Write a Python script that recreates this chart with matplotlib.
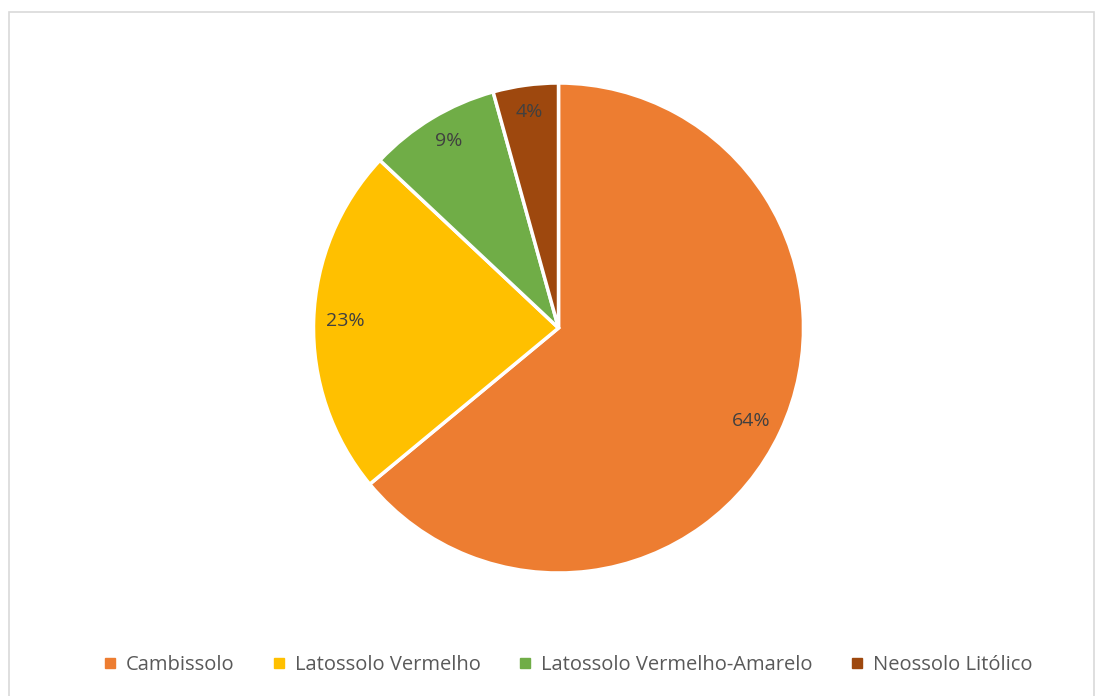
import numpy as np
import matplotlib.pyplot as plt
from matplotlib.patches import Rectangle
from matplotlib.lines import Line2D

categorias = ['Cambissolo', 'Latossolo Vermelho', 'Latossolo Vermelho-Amarelo', 'Neossolo Litólico']
valores = [64.0, 23.0, 8.7, 4.3]
rotulos = ['64%', '23%', '9%', '4%']
cores = ['#ED7D31', '#FFC000', '#70AD47', '#9E480E']

plt.rcParams['font.family'] = ['Open Sans', 'DejaVu Sans']

W, H = 1095, 696
fig = plt.figure(figsize=(W / 100, H / 100), dpi=100)

# moldura cinza clara
fig.patches.append(Rectangle((9 / W, -0.01), (1094 - 9) / W, 1 - 12 / H + 0.01,
                             transform=fig.transFigure, fill=False,
                             edgecolor='#d9d9d9', linewidth=1.2))

cx, cy, r = 558.5, 328, 245
ax = fig.add_axes([(cx - r) / W, (H - cy - r) / H, 2 * r / W, 2 * r / H])
wedges, _ = ax.pie(valores, colors=cores, startangle=90, counterclock=False,
                   radius=1, wedgeprops=dict(edgecolor='white', linewidth=2.5))
for w, txt in zip(wedges, rotulos):
    ang = np.deg2rad((w.theta1 + w.theta2) / 2)
    ax.text(0.87 * np.cos(ang), 0.89 * np.sin(ang), txt, ha='center', va='center',
            fontsize=14, color='#404040')
ax.set_xlim(-1, 1)
ax.set_ylim(-1, 1)
ax.set_aspect('equal')
ax.axis('off')

handles = [Line2D([], [], marker='s', linestyle='none', markersize=7,
                  markerfacecolor=c, markeredgecolor=c) for c in cores]
fig.legend(handles, categorias, loc='center', bbox_to_anchor=(566 / W, 1 - 665 / H),
           ncol=4, frameon=False, fontsize=14.5, labelcolor='#595959',
           handletextpad=0.3, columnspacing=1.7, handlelength=1.0)

fig.savefig('out.png', dpi=100)
